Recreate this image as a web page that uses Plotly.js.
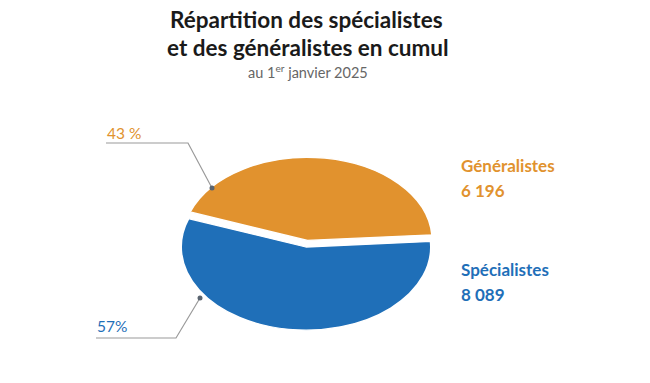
<!DOCTYPE html>
<html>
<head>
<meta charset="utf-8">
<script src="https://cdn.plot.ly/plotly-3.0.1.min.js"></script>
<style>html,body{margin:0;padding:0;background:#fff;}#chart{width:650px;height:383px;}</style>
</head>
<body>
<div id="chart"></div>
<script>
const categories = ["Généralistes", "Spécialistes"];
const counts = [6196, 8089];
const countLabels = ["6 196", "8 089"];
const percentLabels = ["43 %", "57%"];
const titleLines = ["Répartition des spécialistes", "et des généralistes en cumul"];
const subtitle = "au 1<sup>er</sup> janvier 2025";
const colors = ["#e1922e", "#1f6fb8"];

const W = 650, H = 383;
const px = x => x / W;
const py = y => 1 - y / H;

const CX = 306, CY = 247, R = 125, PULL = 0.08, SQUASH = 0.665;
const RD = R * (1 + PULL);

const trace = {
  type: "pie",
  labels: categories,
  values: counts,
  sort: false,
  direction: "clockwise",
  rotation: -70,
  pull: [PULL, 0],
  marker: {colors: colors, line: {color: "#ffffff", width: 2}},
  textinfo: "none",
  hoverinfo: "skip",
  showlegend: false,
  domain: {x: [px(CX - RD), px(CX + RD)], y: [py(CY + RD), py(CY - RD)]}
};

const font = "Lato, 'Open Sans', sans-serif";
const ann = (text, x, y, size, color, anchor) => ({
  text: text, x: px(x), y: py(y), xref: "paper", yref: "paper",
  xanchor: anchor || "left", yanchor: "middle", showarrow: false,
  font: {family: font, size: size, color: color}
});
const annotations = [
  ann("<b>" + titleLines[0] + "</b>", 306, 19, 22.5, "#1a1a1a", "center"),
  ann("<b>" + titleLines[1] + "</b>", 308, 47, 22.5, "#1a1a1a", "center"),
  ann(subtitle, 308, 71, 14.5, "#666666", "center"),
  ann(percentLabels[0], 105, 133, 15.5, colors[0]),
  ann(percentLabels[1], 95, 326, 15.5, colors[1]),
  ann("<b>" + categories[0] + "</b>", 459, 166, 17, colors[0]),
  ann("<b>" + countLabels[0] + "</b>", 459, 191, 17, colors[0]),
  ann("<b>" + categories[1] + "</b>", 459, 269, 17, colors[1]),
  ann("<b>" + countLabels[1] + "</b>", 459, 294, 17, colors[1])
];

const lineStyle = {color: "#9a9a9a", width: 1.2};
const shapes = [
  {type: "path", xref: "paper", yref: "paper", path: `M ${px(106)} ${py(143)} L ${px(188)} ${py(143)} L ${px(212)} ${py(188)}`, line: lineStyle},
  {type: "path", xref: "paper", yref: "paper", path: `M ${px(96)} ${py(338)} L ${px(176)} ${py(338)} L ${px(200)} ${py(298)}`, line: lineStyle},
  {type: "circle", xref: "paper", yref: "paper", x0: px(209.5), x1: px(214.5), y0: py(190.5), y1: py(185.5), fillcolor: "#5a6470", line: {width: 0}},
  {type: "circle", xref: "paper", yref: "paper", x0: px(197.5), x1: px(202.5), y0: py(300.5), y1: py(295.5), fillcolor: "#5a6470", line: {width: 0}}
];

const layout = {
  width: W, height: H,
  margin: {l: 0, r: 0, t: 0, b: 0},
  paper_bgcolor: "#ffffff",
  annotations: annotations,
  shapes: shapes
};

Plotly.newPlot("chart", [trace], layout, {staticPlot: true, displayModeBar: false}).then(gd => {
  const pl = gd.querySelector(".pielayer");
  if (pl) pl.setAttribute("transform", `translate(0, ${CY * (1 - SQUASH)}) scale(1, ${SQUASH})`);
});
</script>
</body>
</html>
